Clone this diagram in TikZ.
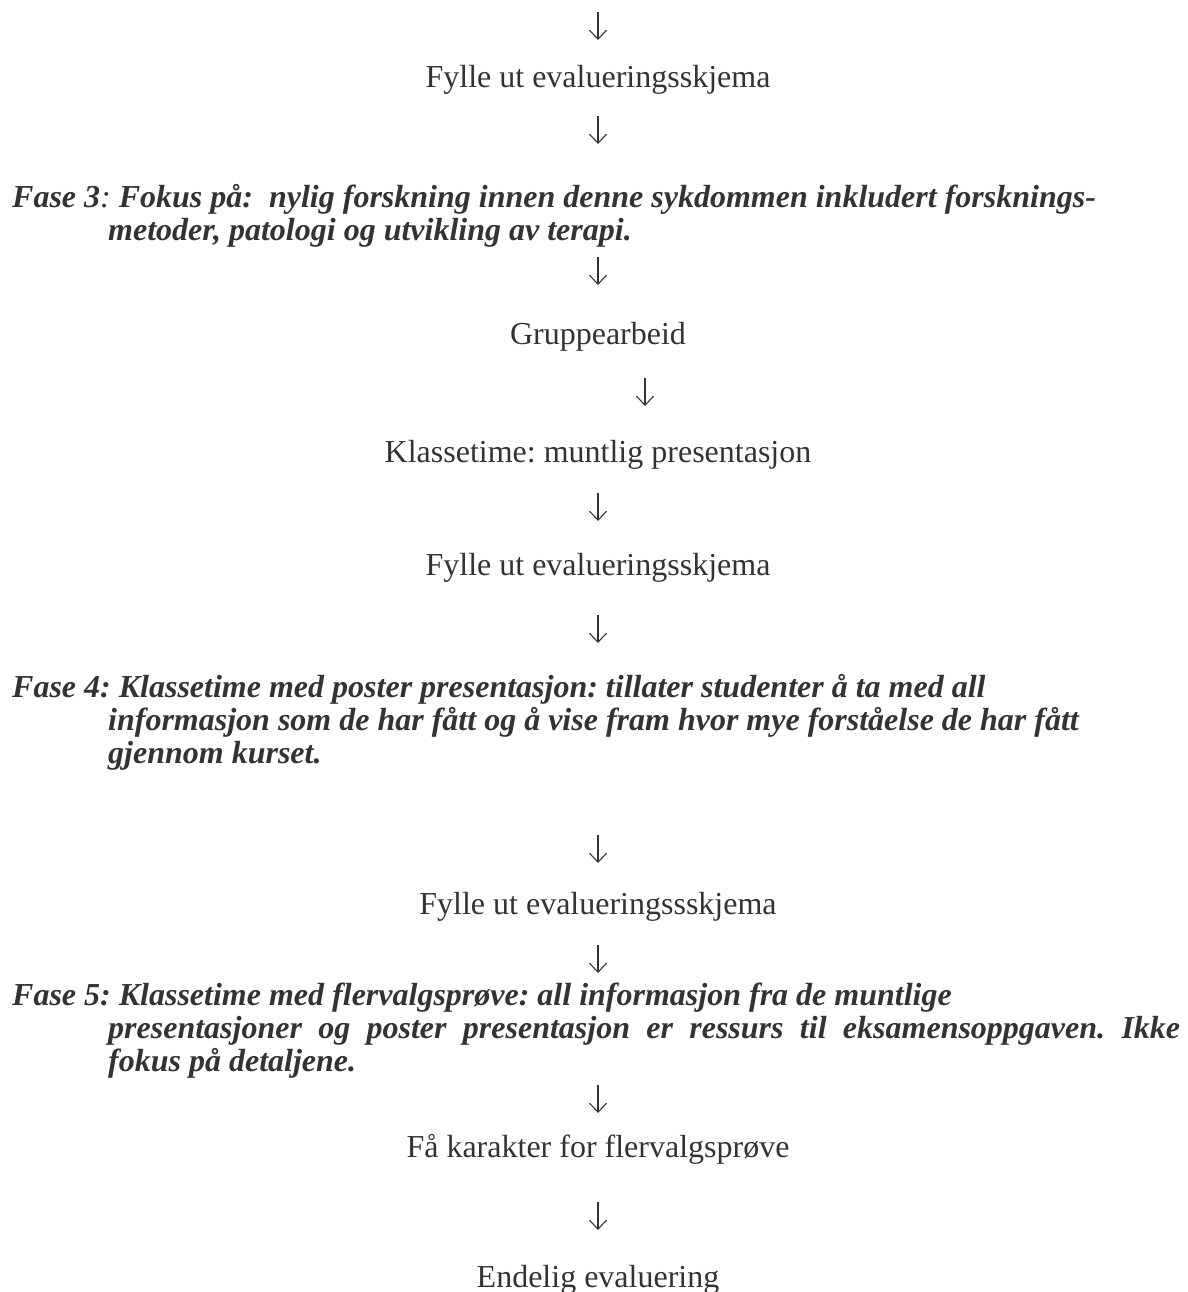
\documentclass[tikz,border=0pt]{standalone}
\usepackage{fontspec}
\setmainfont{Liberation Serif}
\usetikzlibrary{arrows.meta}
\definecolor{ink}{HTML}{333333}
\begin{document}
\frenchspacing
\begin{tikzpicture}[x=1bp,y=-1bp,
  txt/.style={inner sep=0pt, text=ink, font=\fontsize{32bp}{32bp}\selectfont},
  ctr/.style={txt, anchor=base},
  fase/.style={txt, anchor=base west, font=\fontsize{32bp}{32bp}\selectfont\bfseries\itshape},
  down/.style={draw=ink, line width=1.1bp, -{Straight Barb[length=9bp,width=17bp,line width=1.1bp]}}]
\useasboundingbox (0,0) rectangle (1188,1292);
\def\cx{598}
% arrows: top and bottom coordinates
\foreach \n/\x/\c in {1/598/26, 2/598/130, 3/598/271, 4/645/392, 5/598/507,
                      6/598/629, 7/598/849, 8/598/959, 9/598/1099, 10/598/1216}{
  \coordinate (u\n) at (\x,\c-14);
  \coordinate (d\n) at (\x,\c+14);
}
\node[ctr] (t1) at (\cx,87) {Fylle ut evalueringsskjema};
\node[fase] (f3a) at (12,207) {Fase 3{\mdseries:} Fokus på:~ nylig forskning innen denne sykdommen inkludert forsknings-};
\node[fase] (f3b) at (108,240) {metoder, patologi og utvikling av terapi.};
\node[ctr] (t2) at (\cx,344) {Gruppearbeid};
\node[ctr] (t3) at (\cx,462) {Klassetime: muntlig presentasjon};
\node[ctr] (t4) at (\cx,575) {Fylle ut evalueringsskjema};
\node[fase] (f4a) at (12,697) {Fase 4: Klassetime med poster presentasjon: tillater studenter å ta med all};
\node[fase] (f4b) at (108,730) {informasjon som de har fått og å vise fram hvor mye forståelse de har fått};
\node[fase] (f4c) at (108,763) {gjennom kurset.};
\node[ctr] (t5) at (\cx,914) {Fylle ut evalueringssskjema};
\node[fase] (f5a) at (12,1005) {Fase 5: Klassetime med flervalgsprøve: all informasjon fra de muntlige};
\node[fase] (f5b) at (108,1038) {\makebox[1072bp][s]{presentasjoner og poster presentasjon er ressurs til eksamensoppgaven. Ikke}};
\node[fase] (f5c) at (108,1071) {fokus på detaljene.};
\node[ctr] (t6) at (\cx,1157) {Få karakter for flervalgsprøve};
\node[ctr] (t7) at (\cx,1287) {Endelig evaluering};
\foreach \n in {1,...,10}{ \draw[down] (u\n) -- (d\n); }
\end{tikzpicture}
\end{document}
